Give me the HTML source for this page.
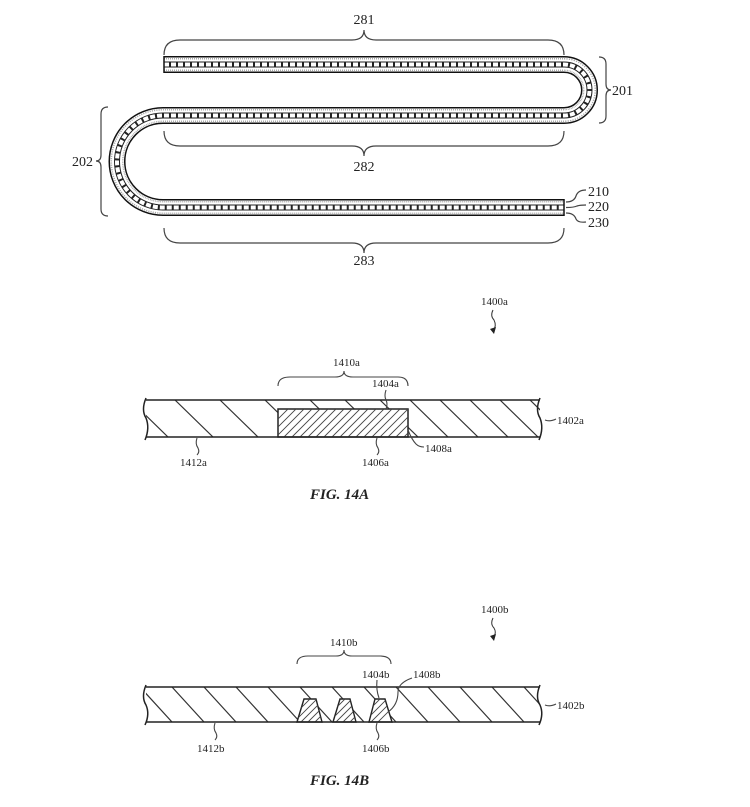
<!DOCTYPE html>
<html><head><meta charset="utf-8"><style>
html,body{margin:0;padding:0;background:#fff;}
svg{display:block;}
text{font-family:"Liberation Serif",serif;fill:#222;}
</style></head><body>
<svg width="750" height="807" viewBox="0 0 750 807" xmlns="http://www.w3.org/2000/svg" xmlns:xlink="http://www.w3.org/1999/xlink">
<defs>
<path id="fold" d="M164 64.5 L564 64.5 A25.5 25.5 0 0 1 564 115.5 L163 115.5 A46 46 0 0 0 163 207.5 L564 207.5"/>
<clipPath id="barA"><rect x="146" y="400" width="394" height="37"/></clipPath>
<clipPath id="blkA"><rect x="278" y="409" width="130" height="28"/></clipPath>
<clipPath id="barB"><rect x="146" y="687" width="394" height="35"/></clipPath>
<clipPath id="trB"><path d="M297 722 L304 699 L316 699 L322 722 Z M333 722 L340 699 L350 699 L356 722 Z M369 722 L375 699 L385 699 L392 722 Z"/></clipPath>
</defs>
<!-- Top folded structure -->
<g fill="none">
<use xlink:href="#fold" href="#fold" stroke="#111" stroke-width="17"/>
<use xlink:href="#fold" href="#fold" stroke="#fff" stroke-width="14"/>
<use xlink:href="#fold" href="#fold" stroke="#aaa" stroke-width="13" stroke-dasharray="1 1"/>
<use xlink:href="#fold" href="#fold" stroke="#fff" stroke-width="10"/>
<use xlink:href="#fold" href="#fold" stroke="#222" stroke-width="6"/>
<use xlink:href="#fold" href="#fold" stroke="#fff" stroke-width="4" stroke-dasharray="5 2"/>
<line x1="164" y1="56" x2="164" y2="73" stroke="#111" stroke-width="1.5"/>
<line x1="564" y1="199" x2="564" y2="216" stroke="#111" stroke-width="1.5"/>
</g>
<!-- braces -->
<g fill="none" stroke="#444" stroke-width="1.2">
<path d="M164 55 Q164 40 180 40 L352 40 Q364 40 364 30 Q364 40 376 40 L548 40 Q564 40 564 55"/>
<path d="M164 131 Q164 146 180 146 L352 146 Q364 146 364 156 Q364 146 376 146 L548 146 Q564 146 564 131"/>
<path d="M164 228 Q164 243 180 243 L352 243 Q364 243 364 253 Q364 243 376 243 L548 243 Q564 243 564 228"/>
<path d="M599 57 Q606 57 606 64 L606 84 Q606 90 611 90 Q606 90 606 96 L606 116 Q606 123 599 123"/>
<path d="M108 107 Q101 107 101 114 L101 155 Q101 161 96 161 Q101 161 101 167 L101 209 Q101 216 108 216"/>
<path d="M566 202 Q574 202 576 196 Q578 190 586 190"/>
<path d="M566 207.5 Q574 207.5 577 206 Q580 205 586 205"/>
<path d="M566 213 Q574 213 576 219 Q578 223 586 222"/>
</g>
<g font-size="14" text-anchor="middle">
<text x="364" y="24">281</text>
<text x="364" y="171">282</text>
<text x="364" y="265">283</text>
</g>
<g font-size="14">
<text x="612" y="95">201</text>
<text x="72" y="166">202</text>
<text x="588" y="196">210</text>
<text x="588" y="211">220</text>
<text x="588" y="227">230</text>
</g>

<!-- FIG 14A -->
<text x="481" y="305" font-size="11">1400a</text>
<path d="M493 310 Q490 316 494 320 Q497 326 493 331" fill="none" stroke="#333" stroke-width="1"/>
<path d="M490 329 L494 334 L496 327 Z" fill="#222"/>
<g clip-path="url(#barA)" stroke="#333" stroke-width="1.2">
<path d="M130 400 l38 37 M175 400 l38 37 M220 400 l38 37 M265 400 l38 37 M310 400 l38 37 M345 400 l38 37 M380 400 l38 37 M410 400 l38 37 M440 400 l38 37 M470 400 l38 37 M500 400 l38 37 M530 400 l38 37"/>
</g>
<rect x="278" y="409" width="130" height="28" fill="#fff" stroke="#222" stroke-width="1.5"/>
<g clip-path="url(#blkA)" stroke="#444" stroke-width="0.9">
<path d="M260 437 l30 -30 M268 437 l30 -30 M276 437 l30 -30 M284 437 l30 -30 M292 437 l30 -30 M300 437 l30 -30 M308 437 l30 -30 M316 437 l30 -30 M324 437 l30 -30 M332 437 l30 -30 M340 437 l30 -30 M348 437 l30 -30 M356 437 l30 -30 M364 437 l30 -30 M372 437 l30 -30 M380 437 l30 -30 M388 437 l30 -30 M396 437 l30 -30 M404 437 l30 -30"/>
</g>
<g fill="none" stroke="#222" stroke-width="1.5">
<line x1="146" y1="400" x2="540" y2="400"/>
<line x1="146" y1="437" x2="540" y2="437"/>
<path d="M146 398 Q141 410 146 418 Q150 428 145 440"/>
<path d="M540 398 Q535 410 540 418 Q544 428 539 440"/>
</g>
<g fill="none" stroke="#444" stroke-width="1.1">
<path d="M278 386 Q278 377 290 377 L335 377 Q344 377 344 371 Q344 377 353 377 L398 377 Q408 377 408 386"/>
<path d="M545 420 Q550 422 556 419"/>
<path d="M408 430 Q412 440 416 444 Q419 447 424 447"/>
<path d="M386 390 Q384 396 386 400 Q388 404 386 409"/>
<path d="M377 438 Q375 444 378 448 Q380 452 377 455"/>
<path d="M197 438 Q195 444 198 448 Q200 452 197 455"/>
</g>
<g font-size="11">
<text x="333" y="366">1410a</text>
<text x="372" y="387">1404a</text>
<text x="557" y="424">1402a</text>
<text x="425" y="452">1408a</text>
<text x="362" y="466">1406a</text>
<text x="180" y="466">1412a</text>
</g>
<text x="310" y="499" font-size="15" font-weight="bold" font-style="italic">FIG. 14A</text>

<!-- FIG 14B -->
<text x="481" y="613" font-size="11">1400b</text>
<path d="M493 618 Q490 624 494 628 Q497 633 493 638" fill="none" stroke="#333" stroke-width="1"/>
<path d="M490 636 L494 641 L496 634 Z" fill="#222"/>
<g clip-path="url(#barB)" stroke="#333" stroke-width="1.2">
<path d="M140 687 l32 35 M172 687 l32 35 M204 687 l32 35 M236 687 l32 35 M268 687 l32 35 M300 687 l32 35 M332 687 l32 35 M364 687 l32 35 M396 687 l32 35 M428 687 l32 35 M460 687 l32 35 M492 687 l32 35 M524 687 l32 35"/>
</g>
<path d="M297 722 L304 699 L316 699 L322 722 Z M333 722 L340 699 L350 699 L356 722 Z M369 722 L375 699 L385 699 L392 722 Z" fill="#fff" stroke="#222" stroke-width="1.4"/>
<g clip-path="url(#trB)" stroke="#444" stroke-width="0.9">
<path d="M280 722 l26 -26 M287 722 l26 -26 M294 722 l26 -26 M301 722 l26 -26 M308 722 l26 -26 M315 722 l26 -26 M322 722 l26 -26 M329 722 l26 -26 M336 722 l26 -26 M343 722 l26 -26 M350 722 l26 -26 M357 722 l26 -26 M364 722 l26 -26 M371 722 l26 -26 M378 722 l26 -26"/>
</g>
<g fill="none" stroke="#222" stroke-width="1.5">
<line x1="146" y1="687" x2="540" y2="687"/>
<line x1="146" y1="722" x2="540" y2="722"/>
<path d="M146 685 Q141 697 146 705 Q150 714 145 725"/>
<path d="M540 685 Q535 697 540 705 Q544 714 539 725"/>
</g>
<g fill="none" stroke="#444" stroke-width="1.1">
<path d="M297 664 Q297 656 308 656 L336 656 Q344 656 344 650 Q344 656 352 656 L380 656 Q391 656 391 664"/>
<path d="M545 705 Q550 707 556 704"/>
<path d="M388 712 Q398 705 398 692 Q398 683 412 678"/>
<path d="M377 680 Q376 690 379 698"/>
<path d="M377 723 Q375 729 378 733 Q380 737 377 740"/>
<path d="M215 723 Q213 729 216 733 Q218 737 215 740"/>
</g>
<g font-size="11">
<text x="330" y="646">1410b</text>
<text x="362" y="678">1404b</text>
<text x="413" y="678">1408b</text>
<text x="557" y="709">1402b</text>
<text x="362" y="752">1406b</text>
<text x="197" y="752">1412b</text>
</g>
<text x="310" y="785" font-size="15" font-weight="bold" font-style="italic">FIG. 14B</text>
</svg>
</body></html>
